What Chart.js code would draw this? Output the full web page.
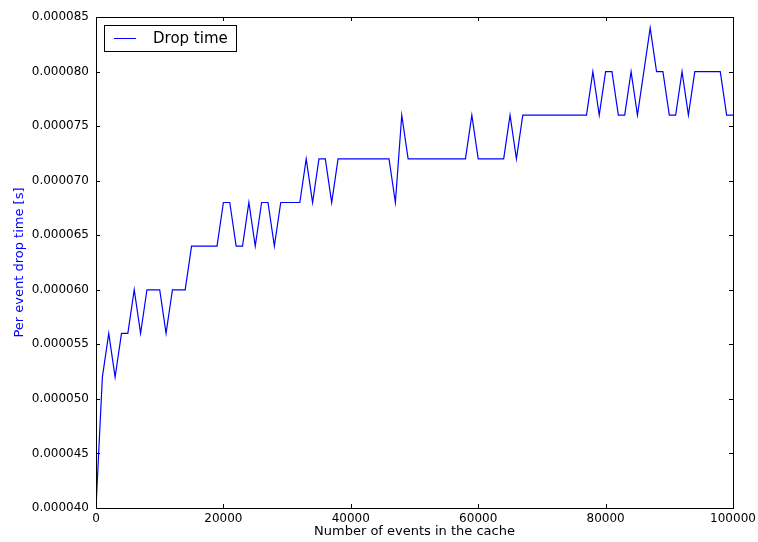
<!DOCTYPE html>
<html lang="en">
<head>
  <meta charset="UTF-8" />
  <title>Drop time</title>
  <script src="https://cdn.jsdelivr.net/npm/chart.js"></script>
  <style>
    body { margin: 0; background: #ffffff; }
    #grafico { display: block; }
  </style>
</head>
<body>
  <canvas id="grafico" width="758" height="542"></canvas>

  <script>
    // number of events in the cache (x)
    const eventos = [];
    for (let i = 0; i <= 100; i++) eventos.push(i * 1000);

    // per event drop time, in microseconds
    const dropMicro = [
      40, 52, 56, 52, 56, 56, 60, 56, 60, 60,
      60, 56, 60, 60, 60, 64, 64, 64, 64, 64,
      68, 68, 64, 64, 68, 64, 68, 68, 64, 68,
      68, 68, 68, 72, 68, 72, 72, 68, 72, 72,
      72, 72, 72, 72, 72, 72, 72, 68, 76, 72,
      72, 72, 72, 72, 72, 72, 72, 72, 72, 76,
      72, 72, 72, 72, 72, 76, 72, 76, 76, 76,
      76, 76, 76, 76, 76, 76, 76, 76, 80, 76,
      80, 80, 76, 76, 80, 76, 80, 84, 80, 80,
      76, 76, 80, 76, 80, 80, 80, 80, 80, 76,
      76
    ];

    const xTicks = [0, 20000, 40000, 60000, 80000, 100000];
    const yMin = 0.000040, yMax = 0.000085, yStep = 0.000005;

    const pontos = eventos.map((x, i) => ({ x: x, y: dropMicro[i] * 1e-6 }));

    const fonte = "'DejaVu Sans', sans-serif";

    // frame, inward ticks and legend like the old matplotlib look
    const moldura = {
      id: 'moldura',
      afterDraw(chart) {
        const c = chart.ctx;
        const a = chart.chartArea;
        const sx = chart.scales.x, sy = chart.scales.y;
        c.save();
        c.strokeStyle = '#000000';
        c.lineWidth = 1;
        c.strokeRect(a.left + 0.5, a.top + 0.5, a.right - a.left, a.bottom - a.top);
        c.beginPath();
        xTicks.forEach(v => {
          const px = Math.round(sx.getPixelForValue(v)) + 0.5;
          c.moveTo(px, a.bottom); c.lineTo(px, a.bottom - 4);
          c.moveTo(px, a.top); c.lineTo(px, a.top + 4);
        });
        for (let v = yMin; v <= yMax + 1e-12; v += yStep) {
          const py = Math.round(sy.getPixelForValue(v)) + 0.5;
          c.moveTo(a.left, py); c.lineTo(a.left + 4, py);
          c.moveTo(a.right, py); c.lineTo(a.right - 4, py);
        }
        c.stroke();

        // legend
        const lx = a.left + 8, ly = a.top + 8;
        c.fillStyle = '#ffffff';
        c.fillRect(lx, ly, 132, 26);
        c.strokeRect(lx + 0.5, ly + 0.5, 132, 26);
        c.strokeStyle = '#0000ff';
        c.beginPath();
        c.moveTo(lx + 10, ly + 13.5); c.lineTo(lx + 32, ly + 13.5);
        c.stroke();
        c.fillStyle = '#000000';
        c.font = '15px ' + fonte;
        c.textBaseline = 'middle';
        c.fillText(chart.data.datasets[0].label, lx + 49, ly + 14);
        c.restore();
      }
    };

    new Chart(document.getElementById('grafico'), {
      type: 'line',
      data: {
        datasets: [{
          label: 'Drop time',
          data: pontos,
          borderColor: '#0000ff',
          borderWidth: 1.2,
          pointRadius: 0,
          tension: 0,
          fill: false
        }]
      },
      options: {
        responsive: false,
        animation: false,
        layout: { padding: { top: 17, right: 25, left: 0, bottom: 0 } },
        plugins: {
          legend: { display: false },
          tooltip: { enabled: false }
        },
        scales: {
          x: {
            type: 'linear',
            min: 0,
            max: 100000,
            afterBuildTicks(s) { s.ticks = xTicks.map(v => ({ value: v })); },
            afterFit(s) { s.height = 34; s.paddingRight = 0; s.paddingLeft = 0; },
            grid: { display: false, drawTicks: false },
            border: { display: false },
            ticks: {
              color: '#000000',
              font: { family: fonte, size: 12 },
              padding: 4,
              maxRotation: 0,
              callback: v => String(v)
            },
            title: {
              display: true,
              text: 'Number of events in the cache',
              color: '#000000',
              font: { family: fonte, size: 13 },
              padding: { top: 0, bottom: 3 }
            }
          },
          y: {
            min: yMin,
            max: yMax,
            afterBuildTicks(s) {
              const t = [];
              for (let v = yMin; v <= yMax + 1e-12; v += yStep) t.push({ value: v });
              s.ticks = t;
            },
            afterFit(s) { s.width = 96; s.paddingTop = 0; s.paddingBottom = 0; },
            grid: { display: false, drawTicks: false },
            border: { display: false },
            ticks: {
              color: '#000000',
              font: { family: fonte, size: 12 },
              padding: 7,
              callback: v => v.toFixed(6)
            },
            title: {
              display: true,
              text: 'Per event drop time [s]',
              color: '#0000ff',
              font: { family: fonte, size: 13 },
              padding: { top: 12, bottom: 0 }
            }
          }
        }
      },
      plugins: [moldura]
    });
  </script>
</body>
</html>
